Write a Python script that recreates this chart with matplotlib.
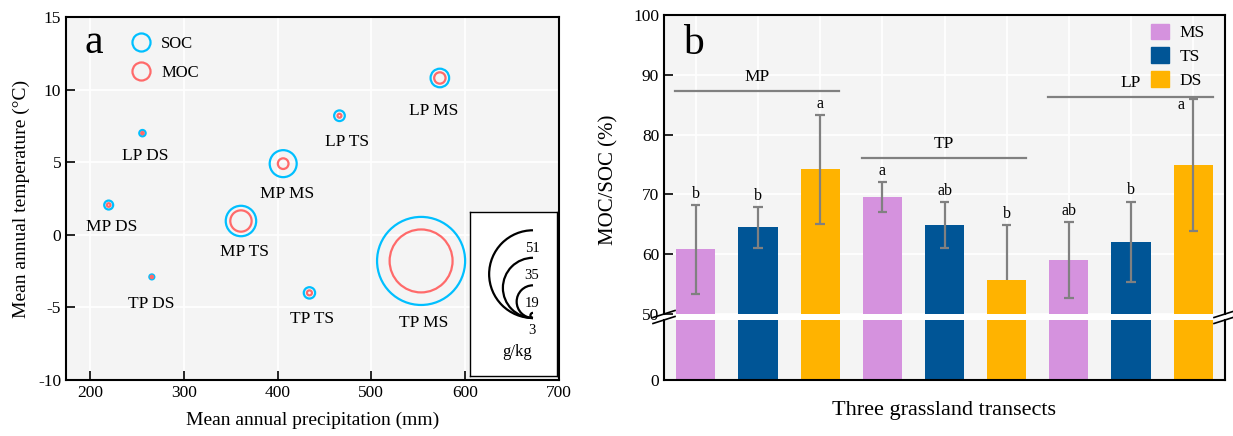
import matplotlib
matplotlib.use('Agg')
import matplotlib.pyplot as plt
from matplotlib.lines import Line2D
from matplotlib.patches import Patch, Arc
import numpy as np

plt.rcParams['font.family'] = ['Liberation Serif', 'DejaVu Serif']
plt.rcParams['axes.unicode_minus'] = False

# ---- panel a data: site climate and carbon pools
sites = ['LP MS', 'LP TS', 'LP DS', 'MP MS', 'MP DS', 'MP TS', 'TP DS', 'TP TS', 'TP MS']
map_mm = [573, 466, 256, 406, 220, 361, 266, 434, 553]
mat_c = [10.8, 8.2, 7.0, 4.9, 2.05, 0.95, -2.9, -4.0, -1.8]
soc = [10.8, 6.2, 3.7, 15.7, 5.2, 17.7, 2.9, 6.6, 51.2]
moc = [6.6, 2.3, 1.4, 6.2, 2.1, 12.4, 1.4, 2.9, 36.6]
size_ticks = [51, 35, 19, 3]

# ---- panel b data: MOC/SOC ratio per transect and site
transects = ['MP', 'TP', 'LP']
site_types = ['MS', 'TS', 'DS']
ratio = [60.8, 64.5, 74.2, 69.6, 64.9, 55.7, 59.0, 62.1, 74.9]
ratio_sd = [7.4, 3.4, 9.1, 2.5, 3.8, 9.2, 6.4, 6.7, 11.0]
letters = ['b', 'b', 'a', 'a', 'ab', 'b', 'ab', 'b', 'a']
group_line_y = [87.3, 76.1, 86.3]

SOC_C = '#00BFFF'
MOC_C = '#FF6A6A'
BAR_C = ['#D592DE', '#005596', '#FFB300']
BG = '#F4F4F4'
ERR_C = '#808080'

W, H, DPI = 1233, 436, 100
fig = plt.figure(figsize=(W / DPI, H / DPI), dpi=DPI)
px2pt = 72 / DPI
px_per_unit = 0.86  # bubble radius in px per g/kg


def rect(l, t, r, b):
    return [l / W, (H - b) / H, (r - l) / W, (b - t) / H]


def style_axes(ax):
    ax.set_facecolor(BG)
    for s in ax.spines.values():
        s.set_linewidth(1.5)
    ax.tick_params(direction='in', length=6.5, width=1.2, labelsize=12.5)


# ================= panel a =================
axa = fig.add_axes(rect(66, 17, 559, 380))
style_axes(axa)
axa.grid(color='white', lw=1.3, zorder=0)
axa.set_axisbelow(True)

sz_soc = [(2 * px_per_unit * v * px2pt) ** 2 for v in soc]
sz_moc = [(2 * px_per_unit * v * px2pt) ** 2 for v in moc]
axa.scatter(map_mm, mat_c, s=sz_soc, facecolors='none', edgecolors=SOC_C, linewidths=1.6, zorder=3)
axa.scatter(map_mm, mat_c, s=sz_moc, facecolors='none', edgecolors=MOC_C, linewidths=1.6, zorder=4)

# label offsets in pixels (dx, dy)
lab_off = [(-6, -33), (8, -26), (3, -23), (4, -30), (3, -22), (4, -31), (-1, -27), (3, -26), (3, -62)]
for xi, yi, name, (dx, dy) in zip(map_mm, mat_c, sites, lab_off):
    axa.annotate(name, (xi, yi), xytext=(dx, dy), textcoords='offset pixels',
                 ha='center', va='center', fontsize=12.5)

axa.set_xlim(174.5, 700)
axa.set_ylim(-10, 15)
axa.set_xticks(np.arange(200, 701, 100))
axa.set_yticks(np.arange(-10, 16, 5))
axa.set_xlabel('Mean annual precipitation (mm)', fontsize=14, labelpad=8)
axa.set_ylabel('Mean annual temperature (\u00b0C)', fontsize=14, labelpad=6)
axa.text(0.038, 0.901, 'a', transform=axa.transAxes, fontsize=30, va='baseline')

handles_a = [Line2D([], [], marker='o', ls='none', mfc='none', mec=SOC_C, mew=1.6, ms=13),
             Line2D([], [], marker='o', ls='none', mfc='none', mec=MOC_C, mew=1.6, ms=13)]
axa.legend(handles_a, ['SOC', 'MOC'], loc='upper left', bbox_to_anchor=(0.114, 0.97),
           frameon=False, fontsize=12, handlelength=1.3, handletextpad=0.55,
           labelspacing=0.75, borderpad=0)

# bubble size key in a white box (1 data unit = 1 px)
key = fig.add_axes(rect(470, 212, 557, 376))
key.set_xlim(0, 87)
key.set_ylim(0, 164)
key.set_xticks([])
key.set_yticks([])
key.set_facecolor('white')
for s in key.spines.values():
    s.set_linewidth(1.0)
for v in size_ticks:
    r = px_per_unit * v
    key.add_patch(Arc((63, 58 + r), 2 * r, 2 * r, theta1=90, theta2=270, lw=1.6, color='black'))
    key.text(62, 58 + 2 * r - 18, str(v), ha='center', va='center', fontsize=10.5)
key.text(47, 24, 'g/kg', ha='center', va='center', fontsize=12)

# ================= panel b (broken y axis) =================
ax_up = fig.add_axes(rect(664, 15, 1225, 314))
ax_lo = fig.add_axes(rect(664, 320, 1225, 380))
x = np.arange(len(ratio))
colors = [BAR_C[i % 3] for i in range(len(ratio))]

for ax in (ax_up, ax_lo):
    style_axes(ax)
    ax.bar(x, ratio, width=0.63, color=colors, zorder=2)
    ax.set_xlim(-0.51, len(ratio) - 0.49)
    ax.set_xticks(x)
    ax.grid(color='white', lw=1.3, zorder=0)
    ax.set_axisbelow(True)

ax_up.set_ylim(50, 100)
ax_up.set_yticks(np.arange(50, 101, 10))
ax_up.spines['bottom'].set_visible(False)
ax_up.tick_params(axis='x', bottom=False, labelbottom=False)

ax_lo.set_ylim(0, 50)
ax_lo.set_yticks([0])
ax_lo.spines['top'].set_visible(False)
ax_lo.tick_params(axis='x', labelbottom=False, length=7)

# error bars, lower half dropped where it would fall into the break
for xi, yi, sd in zip(x, ratio, ratio_sd):
    lo = yi - sd if yi - sd >= 50 else yi
    ax_up.vlines(xi, lo, yi + sd, color=ERR_C, lw=1.6, zorder=4)
    ax_up.hlines(yi + sd, xi - 0.075, xi + 0.075, color=ERR_C, lw=1.6, zorder=4)
    if lo < yi:
        ax_up.hlines(lo, xi - 0.075, xi + 0.075, color=ERR_C, lw=1.6, zorder=4)

for i, (xi, yi, sd, lt) in enumerate(zip(x, ratio, ratio_sd, letters)):
    if i == len(ratio) - 1:
        ax_up.text(xi - 0.19, yi + sd - 1.0, lt, ha='center', va='center', fontsize=11.5, zorder=5)
    else:
        ax_up.text(xi, yi + sd + 1.2, lt, ha='center', va='baseline', fontsize=11.5, zorder=5)

for g, (name, ly) in enumerate(zip(transects, group_line_y)):
    x0, x1 = 3 * g - 0.33, 3 * g + 2.31
    ax_up.plot([x0, x1], [ly, ly], color=ERR_C, lw=1.6, zorder=4)
    ax_up.text((x0 + x1) / 2, ly + 1.6, name, ha='center', va='baseline', fontsize=12.5, zorder=5)

ax_up.text(0.034, 0.870, 'b', transform=ax_up.transAxes, fontsize=30, va='baseline')
handles_b = [Patch(color=c) for c in BAR_C]
ax_up.legend(handles_b, site_types, loc='upper right', bbox_to_anchor=(0.98, 1.0),
             frameon=False, fontsize=12.5, handlelength=1.0, handleheight=1.0,
             handletextpad=0.65, labelspacing=0.35, borderpad=0)

ax_up.set_ylabel('MOC/SOC (%)', fontsize=15, labelpad=6)
ax_up.yaxis.set_label_coords(-0.082, 0.45)
fig.text((664 + 1225) / 2 / W, 1 - 410 / H, 'Three grassland transects', ha='center', va='center', fontsize=16)

# break marks on both spines
for xpx in (664, 1225):
    for ypx in (314, 320):
        fig.add_artist(Line2D([(xpx - 11) / W, (xpx + 11) / W], [1 - (ypx + 3.5) / H, 1 - (ypx - 3.5) / H],
                              color='black', lw=1.2, transform=fig.transFigure))

fig.savefig('out.png', dpi=DPI)
